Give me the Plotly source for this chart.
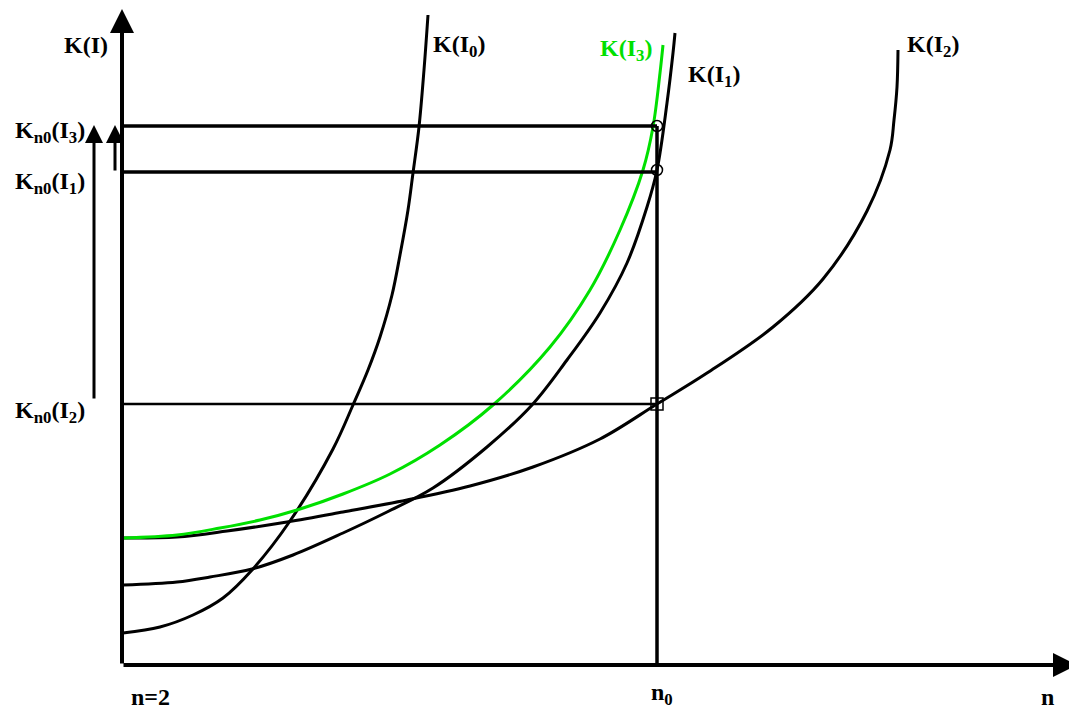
import plotly.graph_objects as go

# curve points (pixel-like units, y grows downward)
i0_x = [123, 160, 193, 223, 252, 290, 333, 353, 368, 380, 392, 400, 408, 413, 419, 424, 428]
i0_y = [633, 627, 615, 598, 570, 521, 449, 405, 370, 337, 295, 255, 210, 173, 127, 70, 15]

i1_x = [123, 177, 210, 252, 293, 343, 387, 433, 487, 532, 567, 600, 627, 647, 657, 667, 673, 675]
i1_y = [585, 582, 577, 569, 555, 533, 512, 488, 447, 405, 360, 313, 263, 207, 170, 103, 53, 33]

i3_x = [123, 177, 220, 260, 297, 343, 390, 440, 493, 550, 590, 620, 643, 653, 660, 663]
i3_y = [538, 535, 528, 520, 510, 494, 474, 445, 405, 347, 290, 230, 170, 127, 73, 45]

i2_x = [123, 177, 227, 287, 343, 407, 470, 533, 600, 657, 707, 773, 823, 867, 890, 894, 897, 898]
i2_y = [538, 537, 531, 522, 512, 500, 486, 467, 439, 404, 373, 327, 279, 211, 150, 120, 87, 50]

origin = (122, 665)
n0 = 657
levels = [126, 172, 404]   # K_n0(I3), K_n0(I1), K_n0(I2)
level_widths = [3.5, 3.5, 2.5]

fig = go.Figure()

for xs, ys, col in [(i0_x, i0_y, "black"), (i1_x, i1_y, "black"),
                    (i2_x, i2_y, "black"), (i3_x, i3_y, "#00e000")]:
    fig.add_trace(go.Scatter(x=xs, y=ys, mode="lines",
                             line=dict(color=col, width=3, shape="spline", smoothing=1.0),
                             hoverinfo="skip"))

# horizontal level lines and the n0 vertical
for lv, w in zip(levels, level_widths):
    fig.add_trace(go.Scatter(x=[origin[0], n0], y=[lv, lv], mode="lines",
                             line=dict(color="black", width=w), hoverinfo="skip"))
fig.add_trace(go.Scatter(x=[n0, n0], y=[levels[0], origin[1]], mode="lines",
                         line=dict(color="black", width=3.5), hoverinfo="skip"))

# intersection markers
fig.add_trace(go.Scatter(x=[n0, n0], y=[126, 170], mode="markers",
                         marker=dict(symbol="circle-open", size=11, color="black", line=dict(width=1.5))))
fig.add_trace(go.Scatter(x=[n0], y=[404], mode="markers",
                         marker=dict(symbol="square-open", size=12, color="black", line=dict(width=1.5))))

# axes with arrows
arrows = [
    (origin[0], origin[1], 1077, origin[1], 4),   # x axis
    (origin[0], origin[1], origin[0], 9, 4),      # y axis
    (94, 400, 94, 125, 3),                        # long arrow
    (115, 172, 115, 125, 3),                      # short arrow
]
for x0, y0, x1, y1, w in arrows:
    fig.add_annotation(x=x1, y=y1, ax=x0, ay=y0, xref="x", yref="y", axref="x", ayref="y",
                       showarrow=True, arrowhead=2, arrowsize=1.2, arrowwidth=w,
                       arrowcolor="black", text="")

font = dict(family="Liberation Serif", size=24, color="black")
labels = [
    ("<b>K(I)</b>", 86, 45, "center"),
    ("<b>K<sub>n0</sub>(I<sub>3</sub>)</b>", 87, 132, "right"),
    ("<b>K<sub>n0</sub>(I<sub>1</sub>)</b>", 87, 183, "right"),
    ("<b>K<sub>n0</sub>(I<sub>2</sub>)</b>", 87, 412, "right"),
    ("<b>n=2</b>", 150, 697, "center"),
    ("<b>n<sub>0</sub></b>", 662, 694, "center"),
    ("<b>n</b>", 1047, 697, "center"),
    ("<b>K(I<sub>0</sub>)</b>", 431, 46, "left"),
    ("<b>K(I<sub>1</sub>)</b>", 686, 76, "left"),
    ("<b>K(I<sub>2</sub>)</b>", 905, 46, "left"),
]
for txt, x, y, anchor in labels:
    fig.add_annotation(x=x, y=y, text=txt, showarrow=False, xanchor=anchor, yanchor="middle", font=font)
fig.add_annotation(x=598, y=50, text="<b>K(I<sub>3</sub>)</b>", showarrow=False, xanchor="left",
                   yanchor="middle", font=dict(family="Liberation Serif", size=24, color="#00e000"))

# page body has an 8px margin: shrink the figure and shift the ranges so data units = screen pixels
fig.update_xaxes(range=[8, 1077], visible=False)
fig.update_yaxes(range=[711, 8], visible=False)
fig.update_layout(width=1069, height=703, margin=dict(l=0, r=0, t=0, b=0),
                  plot_bgcolor="white", paper_bgcolor="white", showlegend=False)

fig.write_html("out.html")
